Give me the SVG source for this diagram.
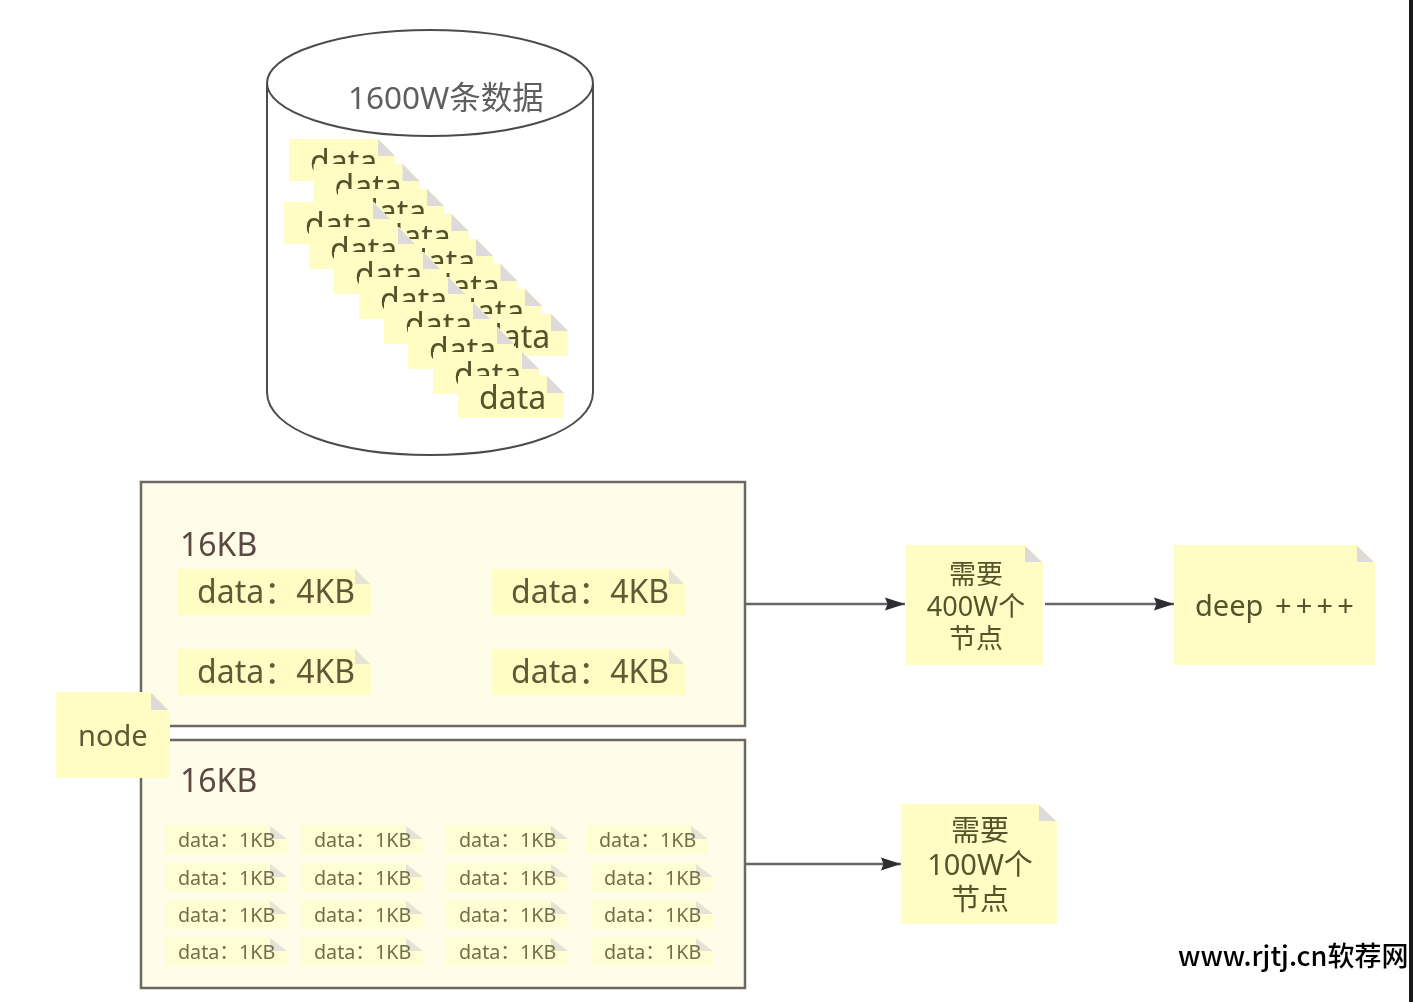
<svg xmlns="http://www.w3.org/2000/svg" width="1414" height="1002" viewBox="0 0 1414 1002">
<style>
text{font-family:"Noto Sans","Noto Sans CJK SC",sans-serif}
.nf{fill:#fffdc4}
.sf{fill:#fffdd4}
.fold{fill:#dedadb}
.foldl{fill:#e6e2d8}
.d{font-size:32px;fill:#55512a}
.m{font-size:32px;fill:#5e5a36}
.s{font-size:19.7px;fill:#736f48}
.c{text-anchor:middle;fill:#57532c}
.panel{fill:#fffcea;stroke:#6e6864;stroke-width:2.5}
.t16{font-size:32px;fill:#5a4842}
.cyl{fill:#fff;stroke:#4c4c4c;stroke-width:2}
.conn{fill:none;stroke:#666;stroke-width:2.5}
</style>
<defs>
<filter id="b" x="-2%" y="-2%" width="104%" height="104%"><feGaussianBlur stdDeviation="0.6"/></filter>
<marker id="arrow" markerUnits="userSpaceOnUse" markerWidth="22" markerHeight="16" refX="20" refY="8" orient="auto"><path d="M0 1.5 L20 8 L0 14.5 L2.5 8 Z" fill="#2f2f33"/></marker>
<g id="dn"><polygon class="nf" points="0,0 90,0 106,17 106,42 0,42"/><polygon class="fold" points="89,0 106,17 89,17"/></g>
<g id="m4"><polygon class="nf" points="0,0 178,0 193,15 193,46 0,46"/><polygon class="foldl" points="177,0 192,15 177,15"/></g>
<g id="s1"><polygon class="sf" points="0,0 106,0 122,14 122,29 0,29"/><polygon class="foldl" points="105,1 122,14 105,14"/></g>
</defs>
<rect width="1414" height="1002" fill="#fff"/>
<g filter="url(#b)">
<g id="database">
<path class="cyl" d="M267 84 V392 C267 430 340 455 430 455 C520 455 593 430 593 392 V84"/>
<ellipse class="cyl" cx="430" cy="83" rx="163" ry="53"/>
<text x="348" y="109" font-size="31.5" fill="#5f5f5f">1600W条数据</text>
</g>
<g id="data-a1" transform="translate(289,139)"><use href="#dn"/><text class="d" x="21" y="34">data</text></g>
<g id="data-a2" transform="translate(313.5,164)"><use href="#dn"/><text class="d" x="21" y="34">data</text></g>
<g id="data-a3" transform="translate(338,189)"><use href="#dn"/><text class="d" x="21" y="34">data</text></g>
<g id="data-a4" transform="translate(362.5,214)"><use href="#dn"/><text class="d" x="21" y="34">data</text></g>
<g id="data-a5" transform="translate(387,239)"><use href="#dn"/><text class="d" x="21" y="34">data</text></g>
<g id="data-a6" transform="translate(411.5,264)"><use href="#dn"/><text class="d" x="21" y="34">data</text></g>
<g id="data-a7" transform="translate(436,289)"><use href="#dn"/><text class="d" x="21" y="34">data</text></g>
<g id="data-a8" transform="translate(462,314)"><use href="#dn"/><text class="d" x="21" y="34">data</text></g>
<g id="data-b1" transform="translate(284,202)"><use href="#dn"/><text class="d" x="21" y="34">data</text></g>
<g id="data-b2" transform="translate(309,227)"><use href="#dn"/><text class="d" x="21" y="34">data</text></g>
<g id="data-b3" transform="translate(334,252)"><use href="#dn"/><text class="d" x="21" y="34">data</text></g>
<g id="data-b4" transform="translate(359,277)"><use href="#dn"/><text class="d" x="21" y="34">data</text></g>
<g id="data-b5" transform="translate(384,302)"><use href="#dn"/><text class="d" x="21" y="34">data</text></g>
<g id="data-b6" transform="translate(408,327)"><use href="#dn"/><text class="d" x="21" y="34">data</text></g>
<g id="data-b7" transform="translate(433,352)"><use href="#dn"/><text class="d" x="21" y="34">data</text></g>
<g id="data-b8" transform="translate(458,376)"><use href="#dn"/><text class="d" x="21" y="33">data</text></g>

<g id="page-top"><rect class="panel" x="141" y="482" width="604" height="244"/><text class="t16" x="180" y="556">16KB</text></g>
<g id="page-bottom"><rect class="panel" x="141" y="740" width="604" height="248"/><text class="t16" x="180" y="792">16KB</text></g>

<g id="m1" transform="translate(178,569)"><use href="#m4"/><text class="m" x="19" y="34">data：4KB</text></g>
<g id="m2" transform="translate(492,569)"><use href="#m4"/><text class="m" x="19" y="34">data：4KB</text></g>
<g id="m3" transform="translate(178,649)"><use href="#m4"/><text class="m" x="19" y="34">data：4KB</text></g>
<g id="m4n" transform="translate(492,649)"><use href="#m4"/><text class="m" x="19" y="34">data：4KB</text></g>

<g id="s11" transform="translate(165,825)"><use href="#s1"/><text class="s" x="13" y="22">data：1KB</text></g>
<g id="s12" transform="translate(301,825)"><use href="#s1"/><text class="s" x="13" y="22">data：1KB</text></g>
<g id="s13" transform="translate(446,825)"><use href="#s1"/><text class="s" x="13" y="22">data：1KB</text></g>
<g id="s14" transform="translate(586,825)"><use href="#s1"/><text class="s" x="13" y="22">data：1KB</text></g>
<g id="s21" transform="translate(165,863)"><use href="#s1"/><text class="s" x="13" y="22">data：1KB</text></g>
<g id="s22" transform="translate(301,863)"><use href="#s1"/><text class="s" x="13" y="22">data：1KB</text></g>
<g id="s23" transform="translate(446,863)"><use href="#s1"/><text class="s" x="13" y="22">data：1KB</text></g>
<g id="s24" transform="translate(591,863)"><use href="#s1"/><text class="s" x="13" y="22">data：1KB</text></g>
<g id="s31" transform="translate(165,900)"><use href="#s1"/><text class="s" x="13" y="22">data：1KB</text></g>
<g id="s32" transform="translate(301,900)"><use href="#s1"/><text class="s" x="13" y="22">data：1KB</text></g>
<g id="s33" transform="translate(446,900)"><use href="#s1"/><text class="s" x="13" y="22">data：1KB</text></g>
<g id="s34" transform="translate(591,900)"><use href="#s1"/><text class="s" x="13" y="22">data：1KB</text></g>
<g id="s41" transform="translate(165,937)"><use href="#s1"/><text class="s" x="13" y="22">data：1KB</text></g>
<g id="s42" transform="translate(301,937)"><use href="#s1"/><text class="s" x="13" y="22">data：1KB</text></g>
<g id="s43" transform="translate(446,937)"><use href="#s1"/><text class="s" x="13" y="22">data：1KB</text></g>
<g id="s44" transform="translate(591,937)"><use href="#s1"/><text class="s" x="13" y="22">data：1KB</text></g>

<g id="connectors">
<path class="conn" d="M746 604 H905" marker-end="url(#arrow)"/>
<path class="conn" d="M1045 604 H1174" marker-end="url(#arrow)"/>
<path class="conn" d="M746 864 H901" marker-end="url(#arrow)"/>
</g>

<g id="node">
<polygon class="nf" points="56,692 152,692 170,710 170,778 56,778"/><polygon class="fold" points="151,693 168,710 151,710"/>
<text x="78" y="746" font-size="29" fill="#5e5a36">node</text>
</g>
<g id="need400">
<polygon class="nf" points="906,545 1025,545 1043,563 1043,665 906,665"/><polygon class="fold" points="1025,546 1042,562 1025,562"/>
<text class="c" font-size="27"><tspan x="976" y="584">需要</tspan><tspan x="976" y="616">400W个</tspan><tspan x="976" y="648">节点</tspan></text>
</g>
<g id="deep">
<polygon class="nf" points="1174,545 1357,545 1375,563 1375,665 1174,665"/><polygon class="fold" points="1357,546 1374,562 1357,562"/>
<text font-size="29" fill="#57532c"><tspan x="1195" y="616">deep</tspan><tspan x="1275" y="616" letter-spacing="4.2">++++</tspan></text>
</g>
<g id="need100">
<polygon class="nf" points="901,804 1039,804 1057,822 1057,924 901,924"/><polygon class="fold" points="1039,805 1056,821 1039,821"/>
<text class="c" font-size="29"><tspan x="980" y="841">需要</tspan><tspan x="980" y="875">100W个</tspan><tspan x="980" y="910">节点</tspan></text>
</g>
</g>
<rect x="1409" y="0" width="4" height="1002" fill="#1a1a1a"/>
<text x="1178" y="966" font-size="27" font-weight="500" fill="#000" style="font-family:'Noto Sans CJK SC','Noto Sans',sans-serif">www.rjtj.cn软荐网</text>
</svg>
